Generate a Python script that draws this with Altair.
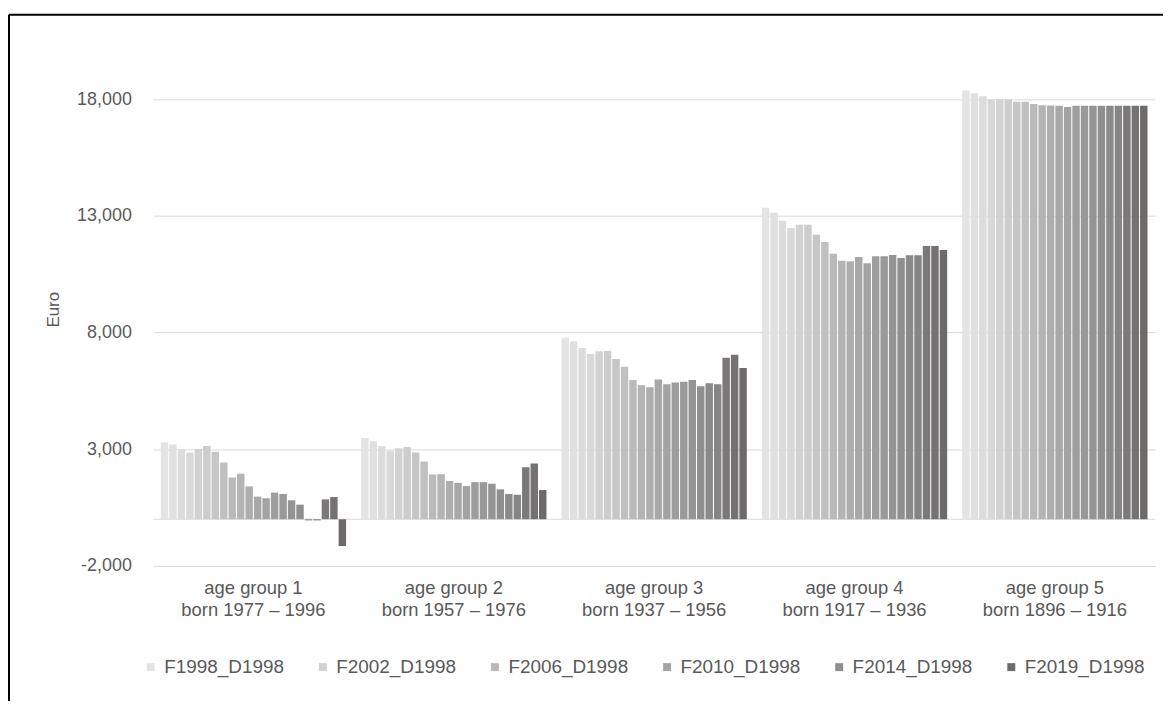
import altair as alt
import pandas as pd

# ---- data -------------------------------------------------------------
groups = [
    "age group 1|born 1977 – 1996",
    "age group 2|born 1957 – 1976",
    "age group 3|born 1937 – 1956",
    "age group 4|born 1917 – 1936",
    "age group 5|born 1896 – 1916",
]
series = [f"F{y}_D1998" for y in range(1998, 2020)]
legend_series = ["F1998_D1998", "F2002_D1998", "F2006_D1998",
                 "F2010_D1998", "F2014_D1998", "F2019_D1998"]

group1 = [3300, 3200, 3010, 2860, 3010, 3140, 2890, 2430, 1790, 1950, 1410,
          970, 900, 1140, 1080, 810, 625, -50, -50, 850, 950, -1150]
group2 = [3480, 3340, 3130, 2930, 3040, 3100, 2860, 2470, 1920, 1930, 1640,
          1560, 1420, 1590, 1590, 1520, 1280, 1080, 1050, 2230, 2390, 1250]
group3 = [7780, 7630, 7340, 7080, 7200, 7210, 6870, 6530, 5970, 5740, 5660,
          5990, 5790, 5860, 5890, 5970, 5700, 5830, 5790, 6920, 7050, 6480]
group4 = [13350, 13130, 12790, 12480, 12620, 12620, 12190, 11880, 11380, 11080, 11060,
          11240, 10970, 11270, 11270, 11320, 11200, 11310, 11310, 11710, 11710, 11540]
group5 = [18370, 18260, 18130, 17990, 18000, 17990, 17890, 17890, 17800, 17740, 17730,
          17720, 17670, 17720, 17720, 17720, 17720, 17720, 17720, 17720, 17720, 17720]

y_ticks = [-2000, 3000, 8000, 13000, 18000]

gray_shades = ["#e4e4e4", "#e0e0e0", "#dcdcdc", "#d8d8d8", "#d2d2d2", "#cdcdcd",
               "#c6c6c6", "#c0c0c0", "#bababa", "#b4b4b4", "#aeaeae", "#a8a8a8",
               "#a3a3a3", "#9e9e9e", "#999999", "#949494", "#8f8f8f", "#8a8a8a",
               "#858585", "#7a7878", "#747272", "#6e6a6a"]

rows = []
for g, vals in zip(groups, [group1, group2, group3, group4, group5]):
    for s, v in zip(series, vals):
        rows.append({"group": g, "series": s, "value": v})
df = pd.DataFrame(rows)

FONT = "Liberation Sans"
TXT = "#595959"
GRID = "#d9d9d9"
W, H = 1007, 516

zero_line = alt.Chart(pd.DataFrame({"v": [0]})).mark_rule(
    color=GRID, strokeWidth=1
).encode(y=alt.Y("v:Q"))

bars = alt.Chart(df).mark_bar().encode(
    x=alt.X("group:N", sort=groups,
            scale=alt.Scale(paddingInner=0.075, paddingOuter=0.0375),
            axis=alt.Axis(title=None, labelExpr="split(datum.label, '|')",
                          labelAngle=0, domain=False, ticks=False, grid=False,
                          labelPadding=13, labelLineHeight=22, labelFontSize=18.5,
                          labelColor=TXT, labelFont=FONT)),
    xOffset=alt.XOffset("series:N", sort=series,
                        scale=alt.Scale(paddingInner=0.12, paddingOuter=0)),
    y=alt.Y("value:Q",
            scale=alt.Scale(domain=[-2000, 20000], nice=False, zero=False),
            axis=alt.Axis(values=y_ticks, format=",d",
                          labelExpr="replace(datum.label, '\u2212', '-')",
                          title="Euro",
                          domain=False, ticks=False, grid=True, gridColor=GRID,
                          labelPadding=22, labelFontSize=18, labelColor=TXT,
                          labelFont=FONT, titleFont=FONT, titleFontSize=17,
                          titleFontWeight="normal", titleColor=TXT,
                          titlePadding=14)),
    color=alt.Color("series:N", sort=series,
                    scale=alt.Scale(domain=series, range=gray_shades),
                    legend=alt.Legend(values=legend_series, title=None,
                                      orient="none", direction="horizontal",
                                      legendX=-12, legendY=608,
                                      symbolType="square", symbolSize=64,
                                      symbolStrokeWidth=0, labelFont=FONT,
                                      labelFontSize=19, labelColor=TXT,
                                      labelOffset=4, columnPadding=29,
                                      labelLimit=300)),
)

frame_data = pd.DataFrame({"a": [0]})
frame_top = alt.Chart(frame_data).mark_rule(color="black", strokeWidth=2).encode(
    x=alt.value(-145), x2=alt.value(1030), y=alt.value(-38))
frame_left = alt.Chart(frame_data).mark_rule(color="black", strokeWidth=2).encode(
    x=alt.value(-145), y=alt.value(-38), y2=alt.value(670))

chart = alt.layer(zero_line, bars, frame_top, frame_left).properties(
    width=W, height=H,
    background="white",
    autosize=alt.AutoSizeParams(type="none"),
    padding={"left": 146, "top": 43, "right": 8, "bottom": 134},
).configure_view(strokeWidth=0)

chart.save("out.html", embed_options={"renderer": "svg", "actions": False})
